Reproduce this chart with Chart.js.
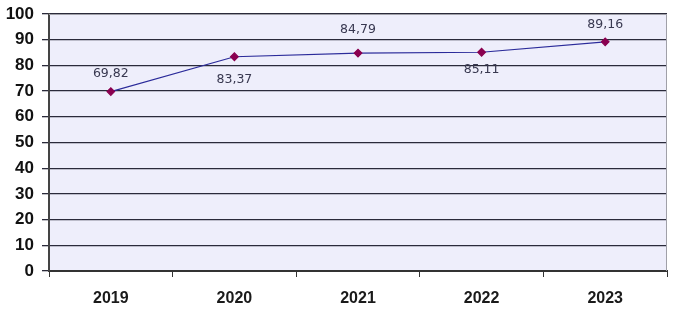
<!DOCTYPE html>
<html>
<head>
<meta charset="utf-8">
<script src="https://cdn.jsdelivr.net/npm/chart.js@4/dist/chart.umd.min.js"></script>
<style>
  html, body { margin: 0; padding: 0; background: #fff; }
  #wrap { width: 681px; height: 323px; }
</style>
</head>
<body>
<div id="wrap"><canvas id="chart" width="681" height="323"></canvas></div>
<script>
// chart data
const years = ['2019', '2020', '2021', '2022', '2023'];
const values = [69.82, 83.37, 84.79, 85.11, 89.16];

// label placement (pixels from the point)
const labelShift = [-18, 23, -23, 17, -17];

// plot background + grey frame on top/right
const plotFrame = {
  id: 'plotFrame',
  beforeDraw(chart) {
    const { ctx, chartArea: a } = chart;
    ctx.save();
    ctx.fillStyle = '#eeeefb';
    ctx.fillRect(a.left, a.top, a.right - a.left, a.bottom - a.top);
    ctx.restore();
  },
  afterDatasetsDraw(chart) {
    const { ctx, chartArea: a } = chart;
    ctx.save();
    ctx.strokeStyle = '#a0a0a8';
    ctx.lineWidth = 1;
    ctx.beginPath();
    ctx.moveTo(a.left, a.top + 0.5);
    ctx.lineTo(a.right - 0.5, a.top + 0.5);
    ctx.lineTo(a.right - 0.5, a.bottom);
    ctx.stroke();
    ctx.restore();
  }
};

// value labels with comma decimals
const valueLabels = {
  id: 'valueLabels',
  afterDatasetsDraw(chart) {
    const { ctx } = chart;
    const meta = chart.getDatasetMeta(0);
    ctx.save();
    ctx.font = '12.5px "DejaVu Sans", Verdana, sans-serif';
    ctx.fillStyle = '#383850';
    ctx.textAlign = 'center';
    ctx.textBaseline = 'middle';
    meta.data.forEach((pt, i) => {
      const txt = values[i].toFixed(2).replace('.', ',');
      ctx.fillText(txt, pt.x, pt.y + labelShift[i]);
    });
    ctx.restore();
  }
};

new Chart(document.getElementById('chart'), {
  type: 'line',
  data: {
    labels: years,
    datasets: [{
      data: values,
      borderColor: '#2b2b9a',
      borderWidth: 1.2,
      pointStyle: 'rectRot',
      pointRadius: 3.8,
      pointBackgroundColor: '#8a0050',
      pointBorderColor: '#8a0050',
      tension: 0
    }]
  },
  options: {
    responsive: false,
    animation: false,
    layout: { padding: { top: 14, right: 14, left: 0, bottom: 0 } },
    plugins: { legend: { display: false }, tooltip: { enabled: false } },
    scales: {
      x: {
        offset: true,
        afterFit: s => { s.height = 52; s.paddingLeft = 0; s.paddingRight = 0; },
        grid: { drawOnChartArea: false, offset: true, tickLength: 6, color: '#333' },
        border: { color: '#333', width: 2 },
        ticks: {
          color: '#1a1a1a',
          padding: 12,
          font: { family: 'Liberation Sans', size: 16, weight: 'bold' }
        }
      },
      y: {
        min: 0,
        max: 100,
        afterFit: s => { s.width = 49; s.paddingTop = 0; s.paddingBottom = 0; },
        grid: { color: '#2a2a3a', lineWidth: 1.3, tickLength: 7 },
        border: { color: '#444', width: 2 },
        ticks: {
          stepSize: 10,
          color: '#111',
          padding: 8,
          font: { family: 'Liberation Sans', size: 17, weight: 'bold' }
        }
      }
    }
  },
  plugins: [plotFrame, valueLabels]
});
</script>
</body>
</html>
